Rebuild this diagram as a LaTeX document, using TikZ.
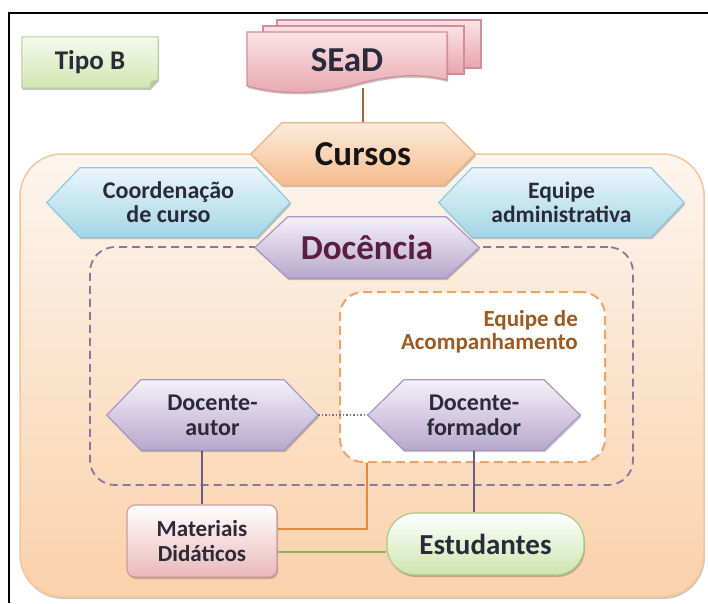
\documentclass[tikz,border=0pt]{standalone}
\usepackage{fontspec}
\setmainfont{Carlito}
\usetikzlibrary{calc,shadows}
\pgfdeclarelayer{lbg}\pgfdeclarelayer{ldash}\pgfdeclarelayer{lline}\pgfdeclarelayer{lshape}
\pgfsetlayers{lbg,ldash,lline,lshape,main}
\definecolor{txtdark}{HTML}{2B2A3A}
\definecolor{cursostxt}{HTML}{151515}
\definecolor{docenciatxt}{HTML}{5A1F40}
\definecolor{acomptxt}{HTML}{9A5A22}
\definecolor{outertop}{HTML}{FDF5EE}
\definecolor{outerbot}{HTML}{FAD1AA}
\definecolor{outerline}{HTML}{F2C79F}
\definecolor{orgtop}{HTML}{FDEBDB}
\definecolor{orgbot}{HTML}{F6BC8E}
\definecolor{orgline}{HTML}{EFB283}
\definecolor{blutop}{HTML}{EAF6FB}
\definecolor{blubot}{HTML}{A3D6E8}
\definecolor{bluline}{HTML}{8FCADF}
\definecolor{purtop}{HTML}{F5F1F8}
\definecolor{purbot}{HTML}{B7A7CD}
\definecolor{purline}{HTML}{A897C2}
\definecolor{pnktop}{HTML}{FBE3E6}
\definecolor{pnkbot}{HTML}{E7A5AE}
\definecolor{pnkline}{HTML}{D58C97}
\definecolor{grntop}{HTML}{F5FAEC}
\definecolor{grnbot}{HTML}{D2E5B2}
\definecolor{grnline}{HTML}{B5CB93}
\definecolor{estbot}{HTML}{CDE5AE}
\definecolor{estline}{HTML}{A9C984}
\definecolor{matbot}{HTML}{EBB8BA}
\definecolor{matline}{HTML}{CF9A9E}
\definecolor{purdash}{HTML}{8E7599}
\definecolor{orgdash}{HTML}{ECA467}
\definecolor{brownln}{HTML}{A0693C}
\definecolor{purln}{HTML}{6E5A86}
\definecolor{orgln}{HTML}{E3893A}
\definecolor{grnln}{HTML}{90B062}
\definecolor{dotln}{HTML}{7D7090}
\tikzset{
  lbl/.style={align=center, inner sep=0pt, text=txtdark, font=\bfseries\fontsize{24}{24}\selectfont},
  softshadow/.style={drop shadow={shadow xshift=1pt,shadow yshift=-2pt,opacity=.22,fill=black}},
  conn/.style={line width=1.8pt},
}
\newcommand{\hexshape}[5]{\path[softshadow, top color=#3, bottom color=#4, draw=#5, line width=1.2pt]
  (#1.west) -- ([xshift=#2]#1.north west) -- ([xshift=-#2]#1.north east) -- (#1.east)
  -- ([xshift=-#2]#1.south east) -- ([xshift=#2]#1.south west) -- cycle;}
\begin{document}
\begin{tikzpicture}[x=1pt,y=-1pt]
\useasboundingbox (0,0) rectangle (708,603);

% ---- text nodes ----
\node[lbl, minimum width=136pt, minimum height=51pt, font=\bfseries\fontsize{27}{27}\selectfont] (tipo) at (90,62.5) {Tipo B};
\node[lbl, minimum width=200pt, minimum height=56pt, font=\bfseries\fontsize{35}{35}\selectfont] (sead) at (347,60) {SEaD};
\node[lbl, minimum width=224pt, minimum height=62pt, text=cursostxt, font=\bfseries\fontsize{35}{35}\selectfont] (cursos) at (363,154) {Cursos};
\node[lbl, minimum width=243pt, minimum height=69pt] (coord) at (168.5,202.5) {Coordenação\\de curso};
\node[lbl, minimum width=245pt, minimum height=69pt, font=\bfseries\fontsize{23.5}{24}\selectfont] (admin) at (561.5,202.5) {Equipe\\administrativa};
\node[lbl, minimum width=224pt, minimum height=61pt, text=docenciatxt, font=\bfseries\fontsize{35}{35}\selectfont] (docencia) at (367,247.5) {Docência};
\node[lbl, minimum width=211pt, minimum height=70pt, font=\bfseries\fontsize{24}{25}\selectfont] (autor) at (212.5,415) {Docente-\\autor};
\node[lbl, minimum width=212pt, minimum height=70pt, font=\bfseries\fontsize{24}{25}\selectfont] (form) at (474,415) {Docente-\\formador};
\node[lbl, align=right, anchor=east, text=acomptxt, font=\bfseries\fontsize{23}{23}\selectfont] (acomptxt) at (578,331.5) {Equipe de\\Acompanhamento};
\node[lbl, minimum width=150pt, minimum height=72pt, rounded corners=8pt, top color=white, bottom color=matbot, draw=matline, line width=1.2pt, softshadow, font=\bfseries\fontsize{23}{25}\selectfont] (mat) at (202,541) {Materiais\\Didáticos};
\node[lbl, minimum width=197pt, minimum height=62pt, rounded corners=28pt, top color=white, bottom color=estbot, draw=estline, line width=1.2pt, softshadow, font=\bfseries\fontsize{29}{29}\selectfont] (est) at (485.5,544) {Estudantes};

% ---- background ----
\begin{pgfonlayer}{lbg}
  \fill[white] (0,0) rectangle (708,603);
  \draw[line width=1.6pt] (9,603) -- (9,13) -- (708,13);
  \path[softshadow, top color=outertop, bottom color=outerbot, draw=outerline, line width=1.5pt, rounded corners=42pt] (20,154) rectangle (704,597);
\end{pgfonlayer}

% ---- dashed groups ----
\begin{pgfonlayer}{ldash}
  \node[draw=purdash, line width=1.8pt, dash pattern=on 8pt off 5pt, rounded corners=25pt, minimum width=543pt, minimum height=238pt, inner sep=0pt] (docgrp) at (361.5,366) {};
  \node[draw=orgdash, fill=white, line width=2pt, dash pattern=on 9pt off 5pt, rounded corners=23pt, minimum width=265pt, minimum height=170pt, inner sep=0pt] (acomp) at (472.5,377) {};
\end{pgfonlayer}

% ---- connectors ----
\begin{pgfonlayer}{lline}
  \draw[conn, line width=1.5pt, brownln] (cursos.north |- sead.south) -- (cursos.north);
  \draw[conn, purln] (autor.south -| mat.north) -- (mat.north);
  \draw[conn, purln] (form.south) -- (form.south |- est.north);
  \draw[line width=1.5pt, dotln, dotted] (autor.east) -- (form.west);
  \draw[conn, orgln] ([yshift=12pt]mat.east) -| ([xshift=28pt]acomp.south west);
  \draw[conn, grnln] ([yshift=-11pt]mat.east) -- ([yshift=-11pt]mat.east -| est.west);
\end{pgfonlayer}

% ---- shapes ----
\begin{pgfonlayer}{lshape}
  % Tipo B note
  \path[softshadow, top color=grntop, bottom color=grnbot, draw=grnline, line width=1pt]
    (tipo.north west) -- (tipo.north east) -- ([yshift=9pt]tipo.south east) -- ([xshift=-9pt]tipo.south east) -- (tipo.south west) -- cycle;
  \fill[grnline] ([yshift=9pt]tipo.south east) -- ([xshift=-9pt]tipo.south east) -- ([xshift=-7pt,yshift=7pt]tipo.south east) -- cycle;
  % SEaD multidocument
  \path[top color=pnktop, bottom color=pnkbot, draw=pnkline, line width=1.2pt] (277,20) rectangle (481,68);
  \path[top color=pnktop, bottom color=pnkbot, draw=pnkline, line width=1.2pt] (263,26) rectangle (464,74);
  \path[softshadow, top color=pnktop, bottom color=pnkbot, draw=pnkline, line width=1.2pt]
    (247,32) -- (447,32) -- (447,80) .. controls (415,72) and (385,76) .. (350,86) .. controls (310,96) and (272,93) .. (247,86) -- cycle;
  % hexagons
  \hexshape{cursos}{31pt}{orgtop}{orgbot}{orgline}
  \hexshape{coord}{33pt}{blutop}{blubot}{bluline}
  \hexshape{admin}{33pt}{blutop}{blubot}{bluline}
  \hexshape{docencia}{33pt}{purtop}{purbot}{purline}
  \hexshape{autor}{34pt}{purtop}{purbot}{purline}
  \hexshape{form}{36pt}{purtop}{purbot}{purline}
\end{pgfonlayer}
\end{tikzpicture}
\end{document}
